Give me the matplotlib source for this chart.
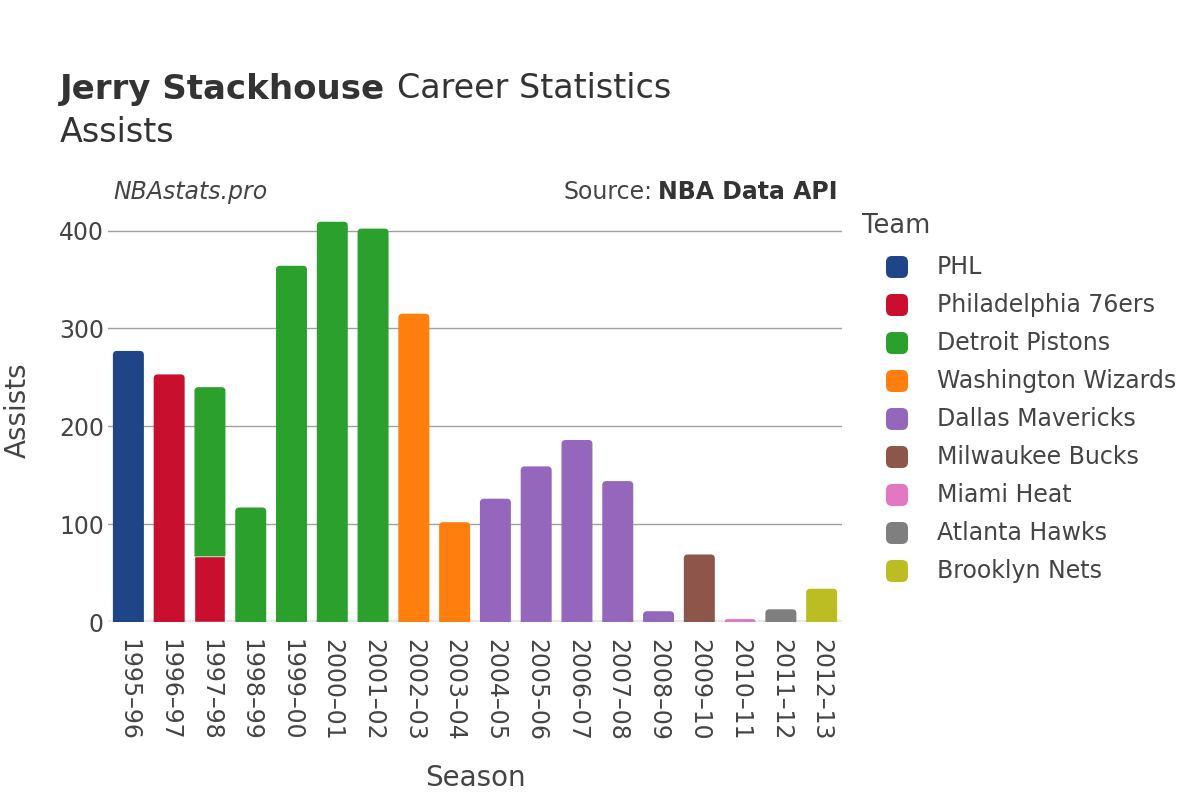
import pandas as pd
import matplotlib.pyplot as plt
from matplotlib.path import Path
from matplotlib.patches import PathPatch, FancyBboxPatch

# Seasons on the x axis
seasons = ['1995–96', '1996–97', '1997–98', '1998–99', '1999–00', '2000–01',
           '2001–02', '2002–03', '2003–04', '2004–05', '2005–06', '2006–07',
           '2007–08', '2008–09', '2009–10', '2010–11', '2011–12', '2012–13']

# Teams, in legend / stacking order, and their colours
teams = ['PHL', 'Philadelphia 76ers', 'Detroit Pistons', 'Washington Wizards',
         'Dallas Mavericks', 'Milwaukee Bucks', 'Miami Heat', 'Atlanta Hawks',
         'Brooklyn Nets']
team_colors = ['#1f4488', '#c8102e', '#2ca02c', '#ff7f0e', '#9467bd',
               '#8c564b', '#e377c2', '#7f7f7f', '#bcbd22']

# One row per season/team stint
row_season = ['1995–96', '1996–97', '1997–98', '1997–98', '1998–99', '1999–00',
              '2000–01', '2001–02', '2002–03', '2003–04', '2004–05', '2005–06',
              '2006–07', '2007–08', '2008–09', '2009–10', '2010–11', '2011–12',
              '2012–13']
row_team = ['PHL', 'Philadelphia 76ers', 'Philadelphia 76ers', 'Detroit Pistons',
            'Detroit Pistons', 'Detroit Pistons', 'Detroit Pistons',
            'Detroit Pistons', 'Washington Wizards', 'Washington Wizards',
            'Dallas Mavericks', 'Dallas Mavericks', 'Dallas Mavericks',
            'Dallas Mavericks', 'Dallas Mavericks', 'Milwaukee Bucks',
            'Miami Heat', 'Atlanta Hawks', 'Brooklyn Nets']
row_assists = [277, 253, 67, 173, 117, 364, 409, 402, 315, 102, 126, 159, 186,
               144, 11, 69, 3, 13, 34]

TXT = '#444444'
YMAX = 421


def top_rounded(ax, x0, y0, w, h, rx, ry, color):
    # bar path with rounded top corners only
    f = min(1.0, h / ry) if ry > 0 else 1.0
    rx, ry = rx * f, ry * f
    verts = [(x0, y0), (x0 + w, y0), (x0 + w, y0 + h - ry), (x0 + w, y0 + h),
             (x0 + w - rx, y0 + h), (x0 + rx, y0 + h), (x0, y0 + h),
             (x0, y0 + h - ry), (x0, y0)]
    codes = [Path.MOVETO, Path.LINETO, Path.LINETO, Path.CURVE3, Path.CURVE3,
             Path.LINETO, Path.CURVE3, Path.CURVE3, Path.CLOSEPOLY]
    ax.add_patch(PathPatch(Path(verts, codes), facecolor=color,
                           edgecolor='none', zorder=3))


df = pd.DataFrame({'Season': row_season, 'Team': row_team, 'AST': row_assists})
table = df.pivot_table(index='Season', columns='Team', values='AST',
                       aggfunc='sum').reindex(index=seasons, columns=teams).fillna(0)

fig = plt.figure(figsize=(12, 8), dpi=100)
ax = fig.add_axes([0.09, 0.2225, 0.6117, 0.515])
ax.set_xlim(-0.5, len(seasons) - 0.5)
ax.set_ylim(0, YMAX)

# pixel -> data unit conversions for the corner radius
px_x = 0.6117 * 1200 / len(seasons)
px_y = 0.515 * 800 / YMAX
rx, ry = 4 / px_x, 4 / px_y
bw = 0.76

bottom = [0.0] * len(seasons)
top_team = {}
for i, s in enumerate(seasons):
    nz = [t for t in teams if table.loc[s, t] > 0]
    top_team[s] = nz[-1]

for t, c in zip(teams, team_colors):
    for i, s in enumerate(seasons):
        v = table.loc[s, t]
        if v <= 0:
            continue
        if top_team[s] == t:
            top_rounded(ax, i - bw / 2, bottom[i], bw, v, rx, ry, c)
        else:
            ax.bar(i, v, bw, bottom=bottom[i], color=c, edgecolor='white',
                   linewidth=1, zorder=3)
        bottom[i] += v

for y in [100, 200, 300, 400]:
    ax.axhline(y, color='#a0a0a0', linewidth=1, zorder=1)
ax.axhline(0, color='#e8e8e8', linewidth=3, zorder=2)

for sp in ax.spines.values():
    sp.set_visible(False)
ax.set_xticks(range(len(seasons)))
ax.set_xticklabels(seasons, rotation=-90, fontsize=17, color=TXT)
ax.set_yticks([0, 100, 200, 300, 400])
ax.set_yticklabels(['0', '100', '200', '300', '400'], fontsize=17, color=TXT)
ax.tick_params(axis='both', length=0)
ax.tick_params(axis='x', pad=12)
ax.tick_params(axis='y', pad=3)

fig.text(0.5 * (0.09 + 0.7017), 1 - 778 / 800, 'Season', fontsize=20,
         color=TXT, ha='center', va='center')
fig.text(18 / 1200, 1 - 410 / 800, 'Assists', fontsize=20, color=TXT,
         ha='center', va='center', rotation=90)

# titles
t1 = fig.text(60 / 1200, 1 - 89 / 800, 'Jerry Stackhouse', fontsize=24.5,
              fontweight='bold', color='#333333', ha='left', va='center')
fig.canvas.draw()
bb = t1.get_window_extent()
fig.text(bb.x1 / 1200 + 0.01, 1 - 89 / 800, 'Career Statistics', fontsize=24,
         color='#333333', ha='left', va='center')
fig.text(60 / 1200, 1 - 132 / 800, 'Assists', fontsize=24, color='#333333',
         ha='left', va='center')

fig.text(113 / 1200, 1 - 192 / 800, 'NBAstats.pro', fontsize=17, style='italic',
         color=TXT, ha='left', va='center')
s2 = fig.text(838 / 1200, 1 - 192 / 800, 'NBA Data API', fontsize=17,
              fontweight='bold', color='#333333', ha='right', va='center')
fig.canvas.draw()
bb2 = s2.get_window_extent()
fig.text(bb2.x0 / 1200 - 0.005, 1 - 192 / 800, 'Source:', fontsize=17,
         color=TXT, ha='right', va='center')

# legend
fig.text(862 / 1200, 1 - 226 / 800, 'Team', fontsize=18.5, color=TXT,
         ha='left', va='center')
for k, (t, c) in enumerate(zip(teams, team_colors)):
    yc = 267 + 38 * k
    fig.patches.append(FancyBboxPatch(
        (886 / 1200, 1 - (yc + 11) / 800), 22 / 1200, 22 / 800,
        boxstyle='round,pad=0,rounding_size=0.005', mutation_aspect=1.5,
        transform=fig.transFigure, facecolor=c, edgecolor='none', figure=fig))
    fig.text(937 / 1200, 1 - yc / 800, t, fontsize=17, color=TXT,
             ha='left', va='center')

fig.savefig('out.png', dpi=100, facecolor='white')
